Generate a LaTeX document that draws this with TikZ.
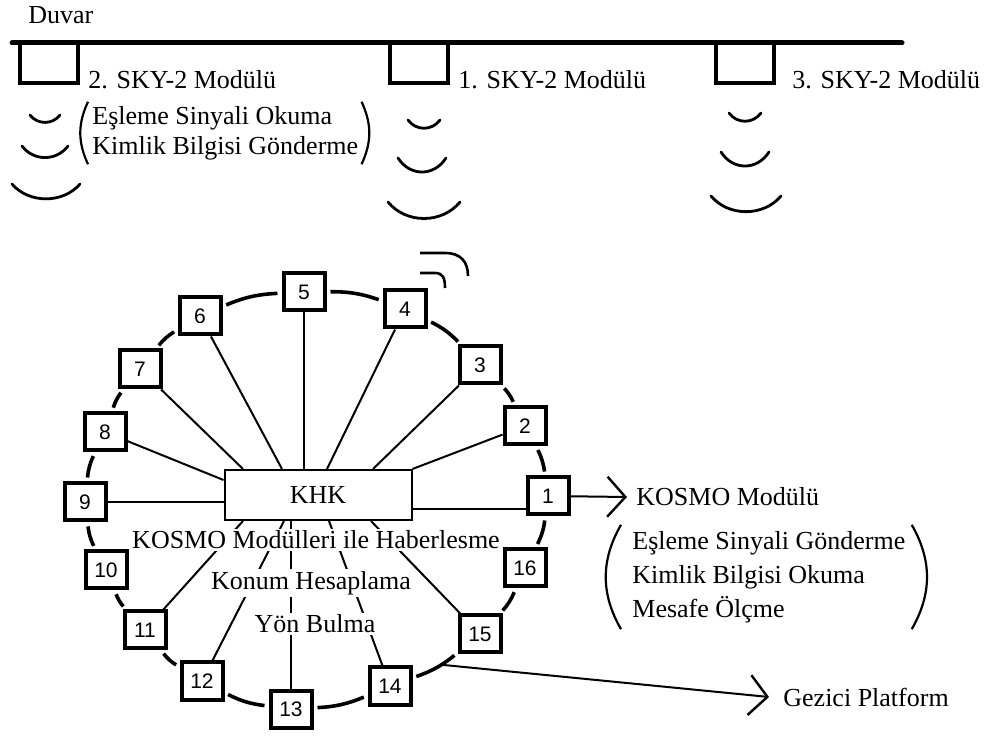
\documentclass[tikz,border=0pt]{standalone}
\usepackage{fontspec}
\setmainfont{Liberation Serif}
\newfontfamily\numfont{Liberation Sans}
\usetikzlibrary{arrows.meta}

\tikzset{
  mod/.style={draw, line width=2pt, fill=white, minimum width=20.5pt, minimum height=18.5pt, inner sep=0pt, font=\numfont\fontsize{10.5}{12}\selectfont},
  ring/.style={line width=1.8pt, shorten <=2pt, shorten >=2pt},
  spoke/.style={line width=1pt},
  lbl/.style={font=\fontsize{13}{15}\selectfont, inner sep=1pt},
  skybox/.style={line width=2pt},
  wave/.style={line width=1.4pt, line cap=round},
  paren/.style={line width=1.1pt},
  pointer/.style={line width=1pt, -{Straight Barb[length=9pt,width=20pt,line width=1.2pt]}},
}

\begin{document}
\begin{tikzpicture}[x=0.5pt, y=-0.5pt]
    \useasboundingbox (0,0) rectangle (993,738);

    % duvar ve SKY-2 modulleri
    \node[lbl, anchor=west] (duvar) at (26,15) {Duvar};
    \draw[line width=2.5pt, line cap=round] (12,43) -- (902,43);
    \foreach \x in {20,390,716}
        \draw[skybox] (\x,43) |- (\x+58,83) -- (\x+58,43);
    \node[lbl, anchor=west] (sky2) at (86,80) {2. SKY-2 Modülü};
    \node[lbl, anchor=west] (sky1) at (456,80) {1. SKY-2 Modülü};
    \node[lbl, anchor=west] (sky3) at (790,80) {3. SKY-2 Modülü};
    \foreach \cx/\cy/\hw/\dp in {45/115/15/9, 45/146/23/14, 46/184/34/18,
                                 424/120/16/10, 422/158/24/17, 424/202/36/20,
                                 745/113/16/10, 745/152/24/17, 746/196/35/19}
        \draw[wave] (\cx-\hw,\cy) .. controls (\cx-\hw/2,\cy+\dp*1.1) and (\cx+\hw/2,\cy+\dp*1.1) .. (\cx+\hw,\cy);
    \node[lbl, anchor=west, align=left, inner sep=0pt] (skyinfo) at (92,133)
        {Eşleme Sinyali Okuma\\Kimlik Bilgisi Gönderme};
    \draw[paren] ([xshift=-2pt,yshift=2pt]skyinfo.north west) to[bend right=25] ([xshift=-2pt,yshift=-2pt]skyinfo.south west);
    \draw[paren] ([xshift=1.5pt,yshift=2pt]skyinfo.north east) to[bend left=25] ([xshift=1.5pt,yshift=-2pt]skyinfo.south east);

    % gezici platform
    \node[draw, line width=1pt, minimum width=93.5pt, minimum height=25pt, lbl] (khk) at (318,495) {KHK};
    \foreach \n/\x/\y in {1/548/496, 2/525/426, 3/480/365, 4/405/309, 5/304/292, 6/200/316,
                          7/140/369, 8/105/432, 9/85/502, 10/106/570, 11/145/630, 12/202/681,
                          13/291/709, 14/390/686, 15/480/634, 16/525/568}
        \node[mod] (m\n) at (\x,\y) {\n};
    \foreach \a/\b in {1/2, 2/3, 3/4, 4/5, 5/6, 6/7, 7/8, 8/9, 9/10, 10/11, 11/12, 12/13, 13/14, 14/15, 15/16, 16/1}
        \draw[ring] (m\a) to[bend right=10] (m\b);
    \path (m14) to[bend right=10] coordinate[pos=0.62] (gz) (m15);

    \draw[spoke] (m8) -- ([yshift=7.5pt]khk.west);
    \draw[spoke] (m7) -- ([xshift=-37.5pt]khk.north);
    \draw[spoke] (m6) -- ([xshift=-18pt]khk.north);
    \draw[spoke] (m5) -- (m5 |- khk.north);
    \draw[spoke] (m4) -- ([xshift=4.5pt]khk.north);
    \draw[spoke] (m3) -- ([xshift=27.5pt]khk.north);
    \draw[spoke] (m2) -- (khk.north east);
    \draw[spoke] (m9) -- (m9 -| khk.west);
    \draw[spoke] ([yshift=-7pt]khk.east) -- ([yshift=-7pt]khk.east -| m1.west);
    \draw[spoke] (m11) -- ([xshift=-37.5pt]khk.south);
    \draw[spoke] (m12) -- ([xshift=-17pt]khk.south);
    \draw[spoke] (m13) -- (m13 |- khk.south);
    \draw[spoke] (m14) -- ([xshift=5.5pt]khk.south);
    \draw[spoke] (m15) -- ([xshift=26.5pt]khk.south);

    \node[lbl, fill=white] (haber) at (316,540) {KOSMO Modülleri ile Haberlesme};
    \node[lbl, fill=white] (konum) at (311,583) {Konum Hesaplama};
    \node[lbl, fill=white] (yon) at (315,624) {Yön Bulma};

    % anten
    \draw[line width=1.3pt] (420,253) -- (445,253) .. controls (461,253) and (468,262) .. (468,276);
    \draw[line width=1.3pt] (420,273) -- (435,273) .. controls (443,273) and (445,278) .. (445,288);

    % KOSMO modulu
    \node[lbl, anchor=west] (kosmo) at (634,497) {KOSMO Modülü};
    \draw[pointer] (m1) -- ([xshift=-3.5pt]kosmo.west);
    \node[lbl, anchor=west, align=left, inner sep=0pt, font=\fontsize{13}{17}\selectfont] (kosmoinfo) at (632,577)
        {Eşleme Sinyali Gönderme\\Kimlik Bilgisi Okuma\\Mesafe Ölçme};
    \draw[paren] ([xshift=-5.5pt,yshift=3pt]kosmoinfo.north west) to[bend right=30] ([xshift=-5.5pt,yshift=-3pt]kosmoinfo.south west);
    \draw[paren] ([xshift=3pt,yshift=3pt]kosmoinfo.north east) to[bend left=30] ([xshift=3pt,yshift=-3pt]kosmoinfo.south east);

    \node[lbl, anchor=west] (gezici) at (781,697) {Gezici Platform};
    \draw[pointer] (gz) -- ([xshift=-6pt]gezici.west);
\end{tikzpicture}
\end{document}
